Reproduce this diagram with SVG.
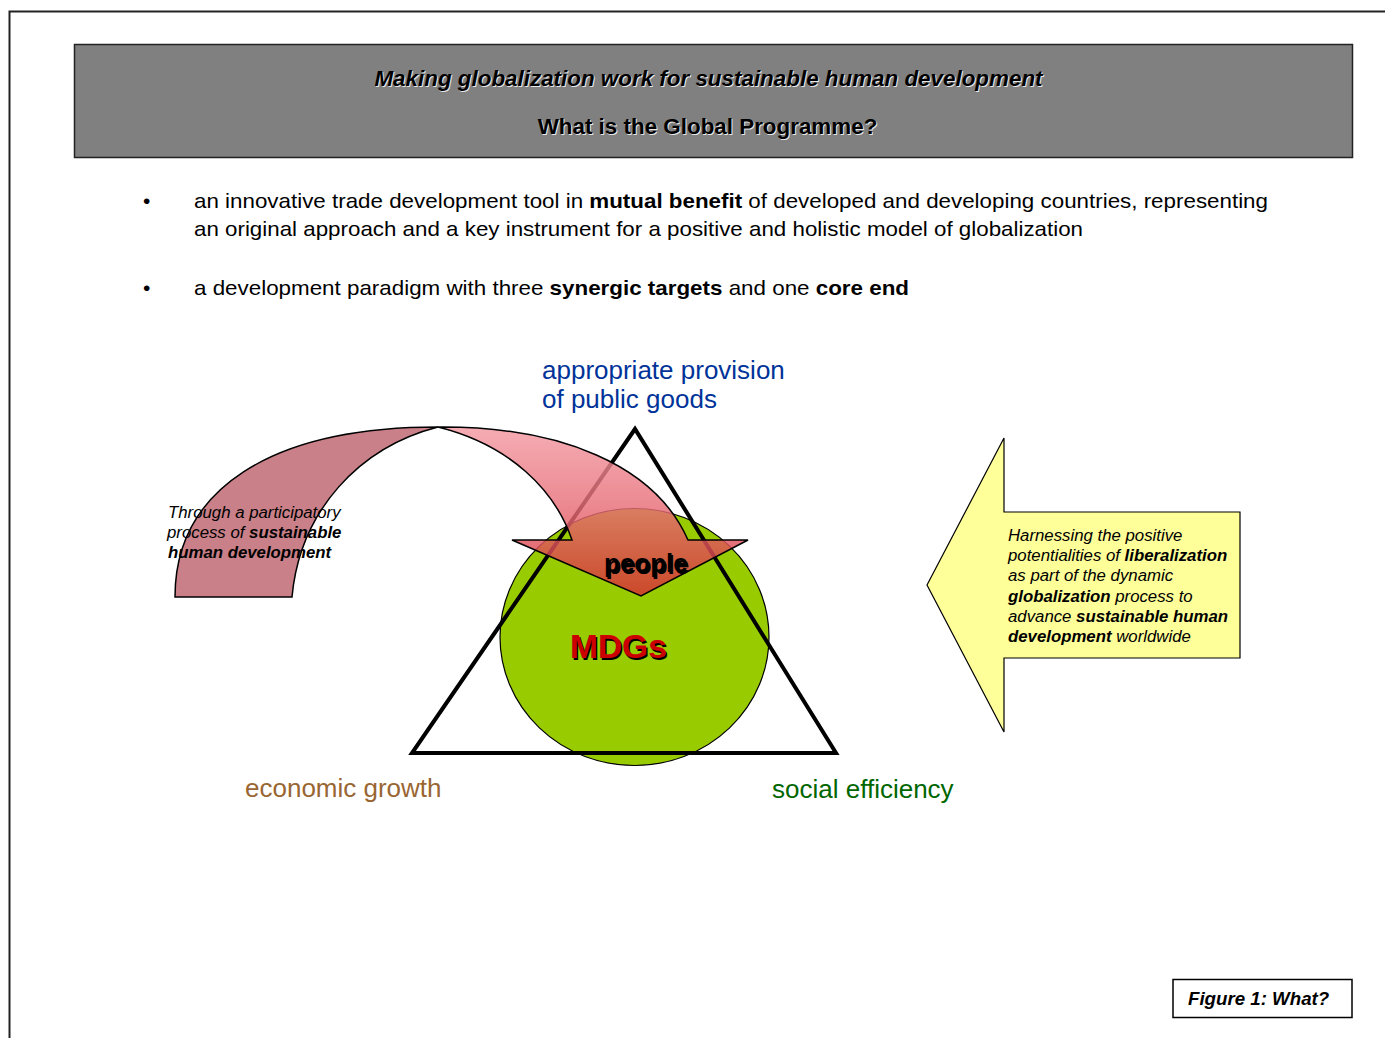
<svg xmlns="http://www.w3.org/2000/svg" width="1385" height="1038" viewBox="0 0 1385 1038">
<style>
.t{font-family:"Liberation Sans",Arial,sans-serif;fill:#000}
.b{font-weight:bold}
.i{font-style:italic}
.hdr{font-family:"Liberation Sans",Arial,sans-serif;font-size:22.4px;font-weight:bold;text-anchor:middle}
.bul{font-family:"Liberation Sans",Arial,sans-serif;font-size:21px;fill:#000}
.lbl{font-family:"Liberation Sans",Arial,sans-serif;font-size:26px}
.sm{font-family:"Liberation Sans",Arial,sans-serif;font-size:16.8px;font-style:italic;fill:#000}
</style>
<defs>
<linearGradient id="rg" x1="0" y1="427" x2="0" y2="597" gradientUnits="userSpaceOnUse">
<stop offset="0" stop-color="#F39AA3"/>
<stop offset="0.45" stop-color="#E8707A"/>
<stop offset="1" stop-color="#D62A32"/>
</linearGradient>
</defs>
<rect width="1385" height="1038" fill="#fff"/>
<path d="M9.5 1040 V11.5 H1390" fill="none" stroke="#222" stroke-width="2"/>
<g id="header">
<rect x="74.5" y="44.5" width="1278" height="113" fill="#808080" stroke="#222" stroke-width="1.5"/>
<text class="hdr i" x="709.5" y="86.5" fill="#e8e8e8">Making globalization work for sustainable human development</text>
<text class="hdr i" x="708.5" y="85.5" fill="#000">Making globalization work for sustainable human development</text>
<text class="hdr" x="708.5" y="135" fill="#e8e8e8">What is the Global Programme?</text>
<text class="hdr" x="707.5" y="134" fill="#000">What is the Global Programme?</text>
</g>
<g id="bullets">
<text class="bul" x="143" y="208">•</text>
<text class="bul" x="194" y="208" textLength="1074" lengthAdjust="spacingAndGlyphs">an innovative trade development tool in <tspan class="b">mutual benefit</tspan> of developed and developing countries, representing</text>
<text class="bul" x="194" y="236" textLength="889" lengthAdjust="spacingAndGlyphs">an original approach and a key instrument for a positive and holistic model of globalization</text>
<text class="bul" x="143" y="295">•</text>
<text class="bul" x="194" y="295" textLength="715" lengthAdjust="spacingAndGlyphs">a development paradigm with three <tspan class="b">synergic targets</tspan> and one <tspan class="b">core end</tspan></text>
</g>
<g id="label-public-goods">
<text class="lbl" x="542" y="379" fill="#003399">appropriate provision</text>
<text class="lbl" x="542" y="408" fill="#003399">of public goods</text>
</g>
<g id="label-economic">
<text class="lbl" x="245" y="797" fill="#996633">economic growth</text>
</g>
<g id="label-social">
<text class="lbl" x="772" y="798" fill="#006600">social efficiency</text>
</g>
<g id="mdgs-circle">
<ellipse cx="634.5" cy="637" rx="134.5" ry="128.5" fill="#99CC00" stroke="#000" stroke-width="1.2"/>
</g>
<g id="triangle">
<polygon points="635,429 412,753 836,753" fill="none" stroke="#000" stroke-width="4" stroke-linejoin="miter"/>
</g>
<g id="curved-arrow">
<path d="M175 597 C175 490 270 427 438 427 C360 447 300 510 292 597 Z" fill="#C98088" stroke="#000" stroke-width="1.5"/>
<path d="M438 427 C560 426 655 465 688 540 L748 540 L641 596 L512 540 L572 540 C555 490 510 445 438 427 Z" fill="url(#rg)" fill-opacity="0.82" stroke="#000" stroke-width="1.5"/>
<text class="sm" x="168" y="518">Through a participatory</text>
<text class="sm" x="167" y="538">process of <tspan class="b">sustainable</tspan></text>
<text class="sm b" x="168" y="558">human development</text>
</g>
<g id="people">
<text class="t b" x="605.5" y="573.5" font-size="26" fill="#888">people</text>
<text class="t b" x="604" y="572" font-size="26">people</text>
</g>
<g id="mdgs">
<text class="t b" x="571.5" y="659.5" font-size="33.5" fill="#bbb">MDGs</text>
<text class="t b" x="570" y="658" font-size="33.5" style="fill:#CC0000">MDGs</text>
</g>
<g id="yellow-arrow">
<polygon points="927,585 1004,438 1004,512 1240,512 1240,658 1004,658 1004,732" fill="#FFFF99" stroke="#000" stroke-width="1.2"/>
<text class="sm" x="1008" y="541">Harnessing the positive</text>
<text class="sm" x="1008" y="561">potentialities of <tspan class="b">liberalization</tspan></text>
<text class="sm" x="1008" y="581">as part of the dynamic</text>
<text class="sm" x="1008" y="602"><tspan class="b">globalization</tspan> process to</text>
<text class="sm" x="1008" y="622">advance <tspan class="b">sustainable human</tspan></text>
<text class="sm" x="1008" y="642"><tspan class="b">development</tspan> worldwide</text>
</g>
<g id="figure-label">
<rect x="1173" y="979.5" width="179" height="38" fill="#fff" stroke="#000" stroke-width="1.5"/>
<text class="t b i" x="1188" y="1005" font-size="18.7">Figure 1: What?</text>
</g>
</svg>
